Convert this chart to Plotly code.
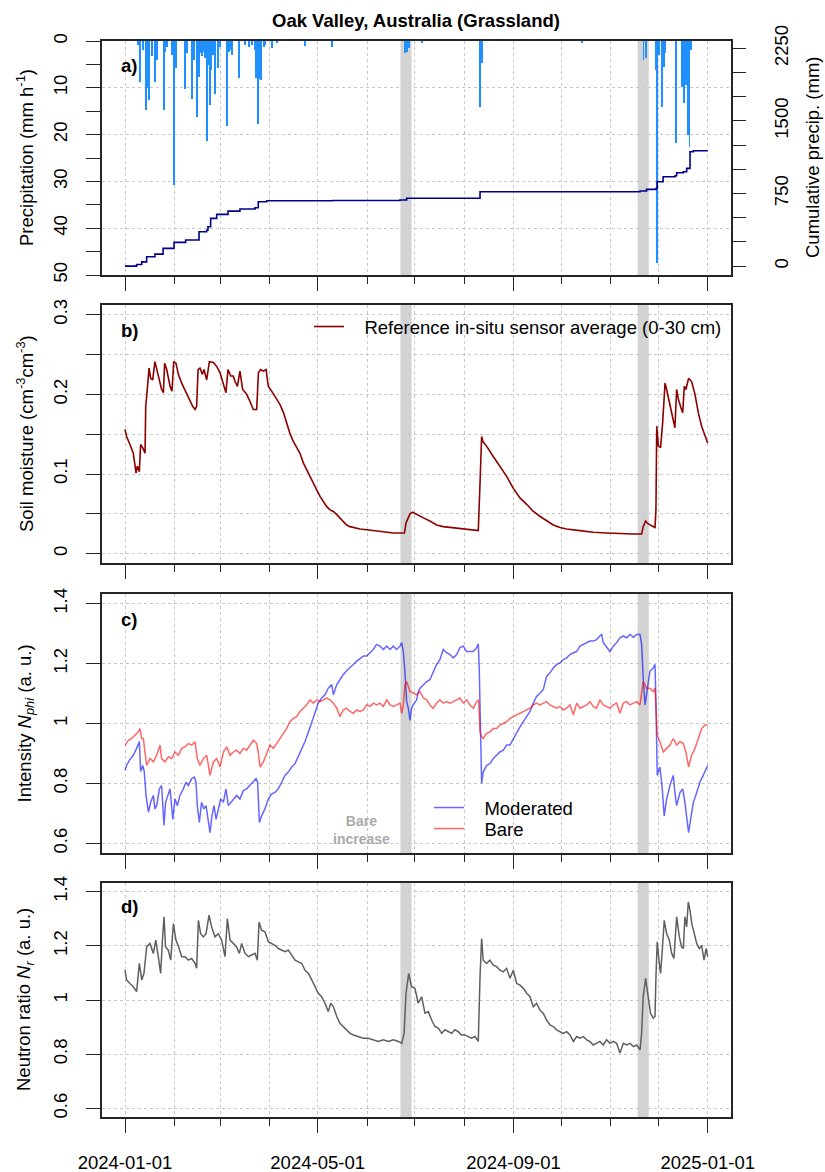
import pandas as pd
import plotly.graph_objects as go

START = pd.Timestamp("2024-01-01")

# ---------------- data (days since 2024-01-01) -------------
precip_day = [7.7, 9.4, 11.1, 13.0, 14.0, 15.1, 16.8, 18.8, 19.9, 24.1, 25.1, 26.2, 29.3, 30.4,
              31.8, 37.7, 38.7, 41.9, 43.3, 45.0, 46.1, 47.1, 48.2, 49.2, 50.3, 51.5, 52.6, 53.2,
              54.0, 55.1, 56.5, 58.0, 59.7, 64.1, 65.1, 66.0, 67.0, 71.4, 75.4, 77.5, 79.6, 81.7,
              82.3, 83.3, 84.4, 85.2, 86.9, 87.9, 92.1, 95.3, 113.1, 129.8, 175.8, 176.9, 177.9,
              178.0, 186.3, 223.0, 224.0, 286.8, 325.5, 327.0, 333.5, 333.9, 335.0, 337.1, 338.1,
              339.2, 346.1, 349.6, 350.7, 351.9, 352.8, 353.6, 354.4, 355.5]
precip_val = [0.9, 8.7, 1.9, 14.7, 10.1, 12.6, 3.3, 8.7, 4.0, 14.7, 2.3, 1.2, 3.0, 30.8,
              5.8, 10.3, 2.6, 12.3, 4.1, 16.2, 7.6, 2.6, 3.3, 2.3, 3.7, 21.3, 5.1, 13.7,
              6.2, 3.0, 11.4, 5.8, 1.2, 18.1, 2.3, 1.9, 3.0, 7.8, 0.9, 1.2, 0.9, 1.9,
              8.0, 17.7, 8.2, 8.3, 1.2, 0.9, 1.6, 0.5, 1.1, 1.2, 2.6, 2.3, 1.6,
              1.2, 0.5, 14.0, 4.8, 0.5, 4.1, 3.7, 6.2, 47.4, 3.0, 14.0, 5.5,
              2.6, 21.7, 9.8, 13.3, 9.5, 9.0, 20.1, 22.6, 1.9]

cum_day = [0, 7.3, 10.5, 13.6, 18.8, 23.9, 30.8, 38.1, 46.5, 51.3, 52.1, 53.8, 57.6, 64.7, 72.2,
           81.7, 83.7, 89.0, 130.6, 172.7, 176.9, 223.0, 323.5, 327.6, 333.5, 334.3, 338.0, 345.5,
           346.5, 350.7, 352.8, 354.9, 357.0, 366.0]
cum_val = [0, 17, 44, 96, 124, 183, 245, 269, 354, 370, 406, 493, 534, 568, 589,
           603, 664, 675, 678, 682, 700, 768, 775, 792, 802, 871, 923, 933,
           964, 975, 1009, 1181, 1192, 1192]

sm_day = [0, 1, 3.1, 5.2, 6.2, 6.9, 7.7, 9, 9.8, 11.1, 12.6, 13, 13.6, 15.1, 16.1, 17.4, 18.8, 19.9,
          21.6, 23.0, 24.1, 24.9, 26.2, 27.2, 28.3, 29.5, 30.6, 32, 33.5, 35.6, 37.1, 38.7, 40.8, 42.5,
          44, 45, 45.9, 47.1, 48.6, 49.6, 51.3, 53, 55.5, 57.6, 59.7, 61.8, 63.4, 64.7, 66.4, 68, 69.1,
          70.6, 72.2, 73.9, 76.4, 78.5, 80.6, 82.7, 83.8, 85.2, 86.9, 88.6, 90, 92.1, 95.3, 97.4, 99.5,
          101.5, 103.6, 105.7, 107.8, 109.9, 112, 114.1, 116.2, 118.3, 120.4, 122.5, 124.6, 126.7, 128.8,
          130.9, 133, 135, 137.1, 139.2, 141.3, 143.4, 145.5, 147.6, 151.8, 156, 160.2, 164.4, 168.5,
          172.7, 175.5, 176.5, 177.3, 179, 180.7, 183.2, 187.4, 191.5, 195.7, 199.9, 204.1, 208.3, 212.5,
          216.7, 221.9, 223, 224, 225, 227.1, 231.3, 235.5, 239.7, 243.9, 248.1, 252.3, 256.5, 260.6,
          264.8, 269, 273.2, 277.4, 285.8, 294.1, 302.5, 310.9, 319.3, 324.5, 325.5, 327, 328.3, 330.8,
          332.9, 333.5, 334, 335, 336.4, 337.7, 339.2, 340.2, 342.3, 344, 345.4, 346.5, 347.7, 349.2,
          350.3, 351.3, 352.3, 354, 355.9, 358, 360.1, 362.2, 364.3, 366]
sm_val = [.156, .147, .137, .126, .112, .101, .110, .103, .137, .133, .126, .185, .197, .233, .220, .218,
          .241, .231, .216, .206, .202, .239, .231, .220, .210, .204, .241, .239, .225, .214, .208, .200,
          .193, .185, .181, .185, .231, .233, .225, .231, .218, .241, .240, .235, .227, .214, .202, .231,
          .223, .223, .216, .210, .229, .206, .200, .191, .181, .181, .227, .231, .229, .231, .210, .204,
          .193, .187, .177, .164, .151, .141, .133, .126, .114, .105, .097, .089, .080, .072, .066, .059,
          .055, .053, .049, .045, .041, .036, .034, .033, .032, .031, .030, .029, .0276, .0268, .026,
          .026, .026, .0385, .042, .050, .052, .049, .045, .041, .036, .034, .033, .032, .031, .030,
          .029, .089, .147, .140, .135, .122, .110, .097, .082, .070, .062, .053, .047, .041, .036, .033,
          .031, .029, .027, .026, .025, .0247, .0247, .034, .041, .038, .035, .033, .055, .160, .135,
          .133, .164, .214, .206, .185, .168, .158, .206, .193, .183, .177, .210, .206, .220, .216, .200,
          .177, .160, .149, .139]

mod_day = [0, 1, 3.1, 5.2, 7.3, 9, 9.8, 11.1, 12.1, 13.2, 14.7, 16.1, 17.8, 18.8, 19.9, 21.6, 23, 24.5,
           25.5, 27.2, 28.3, 30, 31.4, 32.9, 34.5, 36.6, 38.3, 39.8, 41.9, 43.6, 44.6, 45.4, 46.7, 48.1,
           49.6, 50.9, 52.3, 53.4, 54.6, 55.9, 57.2, 58.6, 60.1, 61.8, 63.4, 64.9, 66.4, 68, 70.1, 72.2,
           74.3, 76.4, 78.5, 80.6, 82.3, 83.3, 84.4, 85.8, 87.9, 90, 92.1, 94.2, 96.3, 98.4, 100.5, 102.6,
           104.7, 106.8, 108.9, 111, 113, 115.2, 117.3, 119.4, 121.4, 123.5, 125.6, 127.7, 129.8, 130.9,
           133, 135, 137, 139.2, 141.3, 143.4, 145.5, 147.6, 149.7, 151.8, 153.9, 156, 158, 160.2, 162.3,
           164.4, 166.5, 168.5, 170.6, 172.7, 173.8, 174.8, 175.8, 176.9, 178, 179, 180, 181, 183.2,
           184.2, 185.3, 187.4, 189.5, 191.5, 193.6, 195.7, 197.8, 199.9, 202, 204.1, 206.2, 208.3,
           210.4, 212.5, 214.6, 216.7, 218.8, 220.9, 221.9, 222.5, 223.4, 224, 225, 227.1, 229.2,
           231.3, 233.4, 235.5, 237.6, 239.7, 241.8, 243.9, 246, 248.1, 250.2, 252.3, 254.4, 256.5,
           258.5, 260.6, 262.7, 264.8, 266.9, 269, 271.1, 273.2, 275.3, 277.4, 279.5, 281.6, 283.7,
           285.8, 287.9, 290, 292, 294.1, 296.2, 298.3, 299.4, 300.4, 302.5, 304.6, 306.7, 308.8,
           310.9, 313, 315.1, 317.2, 319.3, 321.4, 323.5, 324.5, 325.5, 326.6, 327.6, 328.6, 329.7,
           331.8, 332.9, 333.5, 334.3, 336, 337.3, 338.7, 340.2, 342.3, 344.4, 345.4, 346.5, 348.6,
           350.3, 351.7, 353.2, 354, 355.3, 357, 359.1, 361.1, 363.2, 365.3, 366]
mod_val = [.844, .86, .88, .894, .917, .94, .84, .86, .84, .76, .704, .737, .76, .715, .726, .782, .793, .66,
           .737, .77, .782, .68, .748, .726, .76, .782, .804, .793, .816, .821, .804, .726, .67, .737,
           .715, .726, .68, .636, .692, .726, .68, .715, .748, .737, .782, .726, .737, .748, .76, .748,
           .776, .782, .793, .804, .816, .804, .67, .692, .715, .748, .765, .77, .782, .804, .827, .838,
           .855, .866, .889, .917, .939, .972, 1.006, 1.034, 1.068, 1.085, 1.096, 1.118, 1.13, 1.096,
           1.13, 1.146, 1.163, 1.176, 1.188, 1.197, 1.208, 1.217, 1.225, 1.225, 1.236, 1.247, 1.264, 1.258, 1.247,
           1.258, 1.247, 1.258, 1.247, 1.258, 1.27, 1.24, 1.174, 1.073, 1.05, 1.01, 1.05, 1.062, 1.079,
           1.107, 1.118, 1.13, 1.14, 1.146, 1.169, 1.197, 1.213, 1.247, 1.236, 1.23, 1.219, 1.23,
           1.253, 1.258, 1.24, 1.24, 1.24, 1.253, 1.266, 1.185, .96, .80, .838, .86, .866,
           .883, .894, .905, .911, .928, .928, .95, .972, .989, 1.006, 1.023, 1.04, 1.068,
           1.09, 1.101, 1.113, 1.157, 1.169, 1.185, 1.197, 1.202, 1.213, 1.219, 1.23, 1.236, 1.24,
           1.258, 1.264, 1.27, 1.275, 1.275, 1.28, 1.292, 1.297, 1.27, 1.253, 1.24, 1.258, 1.27,
           1.286, 1.292, 1.286, 1.297, 1.288, 1.297, 1.297, 1.264, 1.152, 1.062, 1.096, 1.13, 1.174,
           1.185, 1.197, 1.073, .827, .855, .793, .692, .748, .793, .827, .77, .726, .77,
           .782, .737, .681, .636, .681, .737, .77, .804, .827, .855, .86]

bare_day = [0, 2.1, 4.2, 6.3, 8.4, 9.4, 10.5, 11.5, 12.6, 13.6, 15.7, 17.8, 19.9, 22, 23, 25.1, 27.2,
            29.3, 31.4, 33.5, 35.6, 37.7, 39.8, 41.9, 44, 45.4, 47.1, 49.2, 51.3, 53.4, 55.5, 57.6, 59.7,
            61.8, 63.9, 66, 68, 70.1, 72.2, 74.3, 76.4, 78.5, 80.6, 82.7, 83.7, 84.8, 86.9, 89, 91.1,
            93.2, 95.3, 97.4, 99.5, 101.5, 103.6, 105.7, 107.8, 109.9, 112, 114.1, 116.2, 118.3, 120.4,
            122.5, 124.6, 126.7, 128.8, 130.9, 133, 135, 137.1, 139.2, 141.3, 143.4, 145.5, 147.6, 149.7,
            151.8, 153.9, 156, 158.1, 160.2, 162.3, 164.4, 166.5, 168.5, 170.6, 172.7, 173.8, 174.8,
            175.8, 176.9, 179, 181, 183.2, 185.3, 187.4, 189.5, 191.5, 193.6, 195.7, 197.8, 199.9, 202,
            204.1, 206.2, 208.3, 210.4, 212.5, 214.6, 216.7, 218.8, 220.9, 222.1, 223, 224, 225, 227.1,
            229.2, 231.3, 233.4, 235.5, 237.6, 239.7, 241.8, 243.9, 246, 248.1, 250.2, 252.3, 254.4,
            256.5, 258.5, 260.6, 262.7, 264.8, 266.9, 269, 271.1, 273.2, 275.3, 277.4, 279.5, 281.6,
            283.7, 285.8, 287.9, 290, 292, 294.1, 296.2, 298.3, 300.4, 302.5, 304.6, 306.7, 308.8,
            310.9, 313, 315.1, 317.2, 319.3, 321.4, 323.5, 324.5, 325.5, 326.6, 327.6, 329.7, 331.8,
            332.9, 333.5, 334.3, 336, 338.1, 340.2, 342.3, 344.4, 346.5, 348.6, 350.7, 352.3, 354,
            355.9, 358, 360.1, 362.2, 364.3, 366]
bare_val = [.928, .944, .95, .961, .972, .983, .95, .95, .905, .86, .883, .872, .894, .928, .883, .872, .889,
            .883, .905, .894, .917, .922, .933, .928, .939, .883, .86, .883, .894, .827, .872, .883, .855,
            .905, .922, .894, .905, .911, .9, .917, .911, .928, .944, .933, .905, .855, .872, .9, .928,
            .917, .933, .95, .967, .983, 1.006, 1.017, 1.023, 1.04, 1.051, 1.062, 1.079, 1.068, 1.079,
            1.073, 1.079, 1.085, 1.079, 1.068, 1.051, 1.023, 1.045, 1.051, 1.04, 1.034, 1.045, 1.04, 1.045,
            1.062, 1.057, 1.068, 1.062, 1.068, 1.057, 1.079, 1.062, 1.057, 1.062, 1.068, 1.034, 1.062,
            1.13, 1.14, 1.107, 1.101, 1.096, 1.107, 1.085, 1.079, 1.062, 1.051, 1.068, 1.079, 1.068, 1.073,
            1.068, 1.073, 1.079, 1.085, 1.068, 1.079, 1.062, 1.051, 1.073, 1.079, .972, .956, .95, .967,
            .972, .983, .983, .995, 1.0, 1.006, 1.017, 1.023, 1.029, 1.034, 1.04, 1.045, 1.051,
            1.062, 1.068, 1.062, 1.068, 1.073, 1.062, 1.057, 1.051, 1.057, 1.045, 1.051, 1.062, 1.029,
            1.068, 1.051, 1.057, 1.062, 1.073, 1.057, 1.051, 1.079, 1.062, 1.057, 1.051, 1.062, 1.068,
            1.034, 1.068, 1.073, 1.062, 1.068, 1.073, 1.062, 1.096, 1.14, 1.13, 1.118, 1.118, 1.107,
            1.118, 1.017, .961, .939, .905, .917, .928, .95, .928, .939, .933, .905, .855,
            .894, .917, .95, .983, .995, .995]

nr_day = [0, 1, 3.1, 5.2, 7.3, 9, 10.5, 11.9, 13.6, 15.7, 17.8, 19.3, 20.9, 22.4, 23.5, 24.5, 25.5, 27.2,
          28.7, 30.4, 32, 33.7, 35.6, 37.7, 39.8, 41.9, 44, 45, 46.1, 47.5, 49.2, 50.9, 52.8, 54.4, 56.5,
          58.6, 60.7, 62.8, 64.3, 66, 68, 70.1, 71.8, 73.3, 75.4, 77.5, 79.6, 81.7, 83.1, 84.2, 85.8, 87.9,
          90, 92.1, 94.2, 96.3, 98.4, 100.5, 102.6, 104.7, 106.8, 108.9, 111, 113.1, 115.2, 117.3, 119.3,
          121.4, 123.5, 125.6, 127.7, 129.2, 130.9, 133, 135, 137.1, 139.2, 141.3, 143.4, 146.6, 149.7,
          152.8, 156, 159.1, 162.3, 165.4, 168.5, 171.7, 173.8, 175.3, 176.5, 178.2, 180, 182.1, 184.2,
          186.3, 188.4, 190.5, 192.6, 194.7, 196.8, 198.9, 201, 203.1, 205.2, 207.2, 209.3, 211.4, 213.5,
          215.6, 217.7, 219.8, 221.9, 223, 224, 225, 227.1, 229.2, 231.3, 233.4, 235.5, 237.6, 239.7,
          241.8, 243.9, 246, 248.1, 250.2, 252.3, 254.4, 256.5, 258.5, 260.6, 262.7, 264.8, 266.9, 269,
          271.1, 273.2, 275.3, 277.4, 279.5, 281.6, 283.7, 285.8, 287.9, 290, 292, 294.1, 296.2, 298.3,
          300.4, 302.5, 304.6, 306.7, 308.8, 310.9, 313, 315.1, 317.2, 319.3, 321.4, 323.5, 324.5, 325.5,
          327, 328.3, 330.1, 331.8, 332.9, 333.5, 334.3, 335.6, 336.4, 337.5, 338.7, 340.2, 341.9, 343.4,
          344.8, 346.5, 348.2, 349.6, 350.7, 351.7, 352.8, 353.8, 354.9, 356, 357.4, 359.1, 360.7, 362.2,
          363.7, 365, 366]
nr_val = [1.11, 1.074, 1.061, 1.049, 1.031, 1.135, 1.074, 1.098, 1.196, 1.209, 1.172, 1.221, 1.16, 1.098,
          1.221, 1.307, 1.196, 1.184, 1.147, 1.282, 1.221, 1.196, 1.16, 1.16, 1.147, 1.153, 1.135, 1.117,
          1.294, 1.245, 1.233, 1.245, 1.313, 1.27, 1.233, 1.245, 1.221, 1.16, 1.301, 1.221, 1.209, 1.196,
          1.172, 1.209, 1.172, 1.16, 1.166, 1.172, 1.147, 1.288, 1.258, 1.252, 1.215, 1.209, 1.202, 1.19,
          1.184, 1.178, 1.184, 1.166, 1.147, 1.141, 1.135, 1.11, 1.098, 1.074, 1.049, 1.025, 1.012, .988,
          .957, .988, .975, .939, .914, .902, .89, .877, .871, .865, .859, .859, .853, .847, .853, .847,
          .853, .847, .84, .877, 1.025, 1.098, 1.049, 1.043, .988, 1.012, .951, .957, .926, .902, .896,
          .877, .89, .883, .877, .89, .883, .871, .871, .865, .859, .865, .847, 1.086, 1.227, 1.147,
          1.135, 1.147, 1.129, 1.123, 1.11, 1.104, 1.117, 1.08, 1.11, 1.061, 1.055, 1.043, 1.025, 1.012,
          .975, .988, .963, .951, .926, .908, .902, .89, .883, .877, .883, .871, .847, .865, .859, .865,
          .853, .847, .834, .84, .847, .834, .853, .84, .847, .84, .804, .84, .834, .84, .828, .834, .816,
          .877, 1.012, 1.08, 1.025, .951, .933, .939, 1.086, 1.215, 1.135, 1.098, 1.184, 1.294, 1.245,
          1.221, 1.172, 1.153, 1.307, 1.233, 1.196, 1.19, 1.307, 1.27, 1.362, 1.331, 1.282, 1.245, 1.209,
          1.19, 1.202, 1.147, 1.19, 1.16]

band_start = ["2024-06-22", "2024-11-18"]
band_end = ["2024-06-29", "2024-11-25"]


def to_dates(days):
    return [(START + pd.Timedelta(days=float(d))).round("min") for d in days]


# ---------------- figure -------------
W, H = 825, 1172
FONT = "Liberation Sans, Arial, sans-serif"
FS = 18.5
XDOM = [101.7 / W, 731.0 / W]
NB = "\u00a0"


def ydom(top, bot):
    return [1 - bot / H, 1 - top / H]


PANELS = {"a": (41, 275), "b": (305, 563.3), "c": (594, 853), "d": (883, 1117)}
XRANGE = ["2023-12-17 08:38", "2025-01-15 15:22"]
GRID = "#C8C8C8"
AX = "#262626"

fig = go.Figure()

fig.add_trace(go.Bar(x=to_dates(precip_day), y=precip_val, width=0.6 * 86400000,
                     marker=dict(color="#1E90FF", line=dict(width=0)),
                     xaxis="x", yaxis="y", showlegend=False))
fig.add_trace(go.Scatter(x=to_dates(cum_day), y=cum_val, mode="lines",
                         line=dict(color="#00008B", width=1.6, shape="hv"),
                         xaxis="x", yaxis="y5", showlegend=False))
fig.add_trace(go.Scatter(x=to_dates(sm_day), y=sm_val, mode="lines",
                         line=dict(color="#8B0000", width=1.6),
                         name=NB * 3 + "Reference in-situ sensor average (0-30 cm)",
                         xaxis="x2", yaxis="y2", legend="legend"))
fig.add_trace(go.Scatter(x=to_dates(mod_day), y=mod_val, mode="lines",
                         line=dict(color="rgba(0,0,255,0.6)", width=1.5),
                         name=NB * 3 + "Moderated", xaxis="x3", yaxis="y3", legend="legend2"))
fig.add_trace(go.Scatter(x=to_dates(bare_day), y=bare_val, mode="lines",
                         line=dict(color="rgba(255,0,0,0.6)", width=1.5),
                         name=NB * 3 + "Bare", xaxis="x3", yaxis="y3", legend="legend3"))
fig.add_trace(go.Scatter(x=to_dates(nr_day), y=nr_val, mode="lines",
                         line=dict(color="#5f5f5f", width=1.5),
                         xaxis="x4", yaxis="y4", showlegend=False))

xbase = dict(domain=XDOM, range=XRANGE, type="date", showline=True, mirror=True,
             linecolor=AX, linewidth=1.5, ticks="outside", ticklen=14, tickwidth=1.3,
             tickcolor=AX, tick0="2024-01-01", dtick="M4", tickformat="%Y-%m-%d",
             showgrid=True, gridcolor=GRID, griddash="dot", gridwidth=1, automargin=False,
             minor=dict(ticks="outside", ticklen=7, tickwidth=1.3, tickcolor=AX, dtick="M1",
                        tick0="2024-01-01", showgrid=True, gridcolor=GRID, griddash="dot",
                        gridwidth=1),
             zeroline=False, tickfont=dict(family=FONT, size=FS, color="black"),
             ticklabelstandoff=14)

ybase = dict(showline=True, mirror=True, linecolor=AX, linewidth=1.5, ticks="outside",
             ticklen=14, tickwidth=1.3, tickcolor=AX, tickangle=-90, showgrid=True,
             gridcolor=GRID, griddash="dot", gridwidth=1, zeroline=False, automargin=False,
             tickfont=dict(family=FONT, size=FS, color="black"), ticklabelstandoff=12)

layout = dict(width=W, height=H, margin=dict(l=0, r=0, t=0, b=0, pad=0, autoexpand=False),
              autosize=False, paper_bgcolor="white", plot_bgcolor="white",
              font=dict(family=FONT, size=FS, color="black"), bargap=0)

for i, key in enumerate(["a", "b", "c", "d"]):
    xn = "xaxis" if i == 0 else f"xaxis{i + 1}"
    yname = "y" if i == 0 else f"y{i + 1}"
    xa = dict(xbase)
    xa["anchor"] = yname
    xa["showticklabels"] = (key == "d")
    layout[xn] = xa

top, bot = PANELS["a"]
layout["yaxis"] = dict(ybase, domain=ydom(top, bot), anchor="x", range=[50, 0],
                       tick0=0, dtick=10,
                       minor=dict(ticks="outside", ticklen=14, tickwidth=1.3, tickcolor=AX,
                                  dtick=5, tick0=0, showgrid=False))
layout["yaxis5"] = dict(ybase, overlaying="y", side="right", anchor="x", range=[-92, 2325],
                        tick0=0, dtick=750, showgrid=False, showline=False, ticklabelstandoff=20,
                        minor=dict(ticks="outside", ticklen=14, tickwidth=1.3, tickcolor=AX,
                                   dtick=250, tick0=0, showgrid=False))
top, bot = PANELS["b"]
layout["yaxis2"] = dict(ybase, domain=ydom(top, bot), anchor="x2", range=[-0.012, 0.312],
                        tick0=0, dtick=0.1,
                        minor=dict(ticks="outside", ticklen=14, tickwidth=1.3, tickcolor=AX,
                                   dtick=0.05, tick0=0, showgrid=True, gridcolor=GRID,
                                   griddash="dot", gridwidth=1))
top, bot = PANELS["c"]
layout["yaxis3"] = dict(ybase, domain=ydom(top, bot), anchor="x3", range=[0.568, 1.432],
                        tick0=0.6, dtick=0.2)
top, bot = PANELS["d"]
layout["yaxis4"] = dict(ybase, domain=ydom(top, bot), anchor="x4", range=[0.568, 1.432],
                        tick0=0.6, dtick=0.2)

# legends
leg_common = dict(xanchor="left", yanchor="top", bgcolor="rgba(0,0,0,0)", borderwidth=0,
                  font=dict(family=FONT, size=FS, color="black"))
layout["legend"] = dict(leg_common, x=309 / W, y=1 - 308 / H)
layout["legend2"] = dict(leg_common, x=429 / W, y=1 - 789 / H)
layout["legend3"] = dict(leg_common, x=429 / W, y=1 - 810 / H)

fig.update_layout(**layout)

# shaded periods
shapes = []
for xr, yr in [("x", "y"), ("x2", "y2"), ("x3", "y3"), ("x4", "y4")]:
    for s, e in zip(band_start, band_end):
        shapes.append(dict(type="rect", xref=xr, yref=f"{yr} domain", x0=s, x1=e, y0=0, y1=1,
                           fillcolor="#D3D3D3", line=dict(width=0), layer="below"))
fig.update_layout(shapes=shapes)

ann = []
ann.append(dict(text="<b>Oak Valley, Australia (Grassland)</b>", x=416.4 / W, y=1 - 21 / H,
                xref="paper", yref="paper", showarrow=False, xanchor="center", yanchor="middle",
                font=dict(family=FONT, size=FS, color="black")))
for lab, yc in [("a)", 66), ("b)", 330), ("c)", 619), ("d)", 906.5)]:
    ann.append(dict(text=f"<b>{lab}</b>", x=119 / W, y=1 - yc / H, xref="paper", yref="paper",
                    showarrow=False, xanchor="left", yanchor="middle",
                    font=dict(family=FONT, size=FS, color="black")))
ytitles = [("Precipitation (mm h<sup>-1</sup>)", 158),
           ("Soil moisture (cm<sup>-3</sup>cm<sup>-3</sup>)", 434),
           ("Intensity <i>N</i><sub><i>phi</i></sub> (a. u.)", 723.5),
           ("Neutron ratio <i>N</i><sub><i>r</i></sub> (a. u.)", 1000)]
for t, yc in ytitles:
    ann.append(dict(text=t, x=25 / W, y=1 - yc / H, xref="paper", yref="paper",
                    showarrow=False, textangle=-90, xanchor="center", yanchor="middle",
                    font=dict(family=FONT, size=FS, color="black")))
ann.append(dict(text="Cumulative precip. (mm)", x=812 / W, y=1 - 157 / H, xref="paper",
                yref="paper", showarrow=False, textangle=-90, xanchor="center",
                yanchor="middle", font=dict(family=FONT, size=FS, color="black")))
ann.append(dict(text="<b>Bare<br>increase</b>", x=361 / W, y=1 - 829.5 / H, xref="paper",
                yref="paper", showarrow=False, xanchor="center", yanchor="middle",
                font=dict(family=FONT, size=14, color="#AAAAAA")))
fig.update_layout(annotations=ann)

fig.write_html("out.html", config={"displayModeBar": False},
               post_script="document.body.style.margin='0';document.body.style.padding='0';")
